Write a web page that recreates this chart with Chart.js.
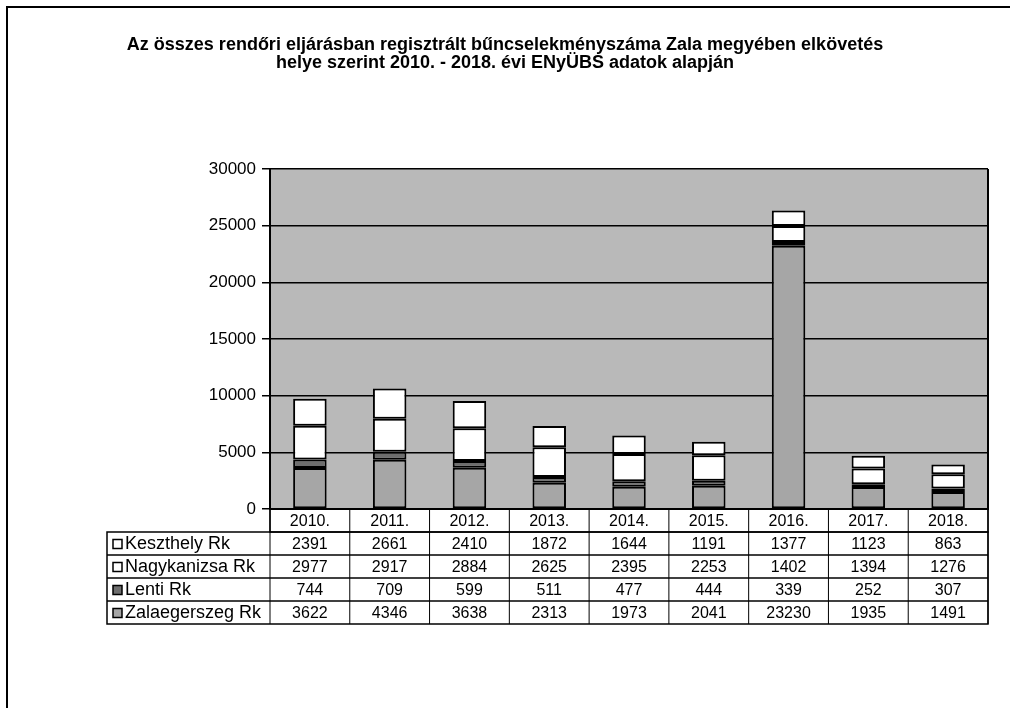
<!DOCTYPE html>
<html>
<head>
<meta charset="utf-8">
<script src="https://cdn.jsdelivr.net/npm/chart.js@4"></script>
<style>
  body { margin: 0; background: #fff; }
  #wrap { position: relative; width: 1010px; height: 708px; }
  #frame { position: absolute; left: 6px; top: 6px; right: 0; bottom: 0; border-left: 2px solid #000; border-top: 2px solid #000; pointer-events: none; }
  canvas { position: absolute; left: 0; top: 0; }
</style>
</head>
<body>
<div id="wrap">
  <canvas id="chart" width="1010" height="708"></canvas>
  <div id="frame"></div>
</div>
<script>
const years = ['2010.', '2011.', '2012.', '2013.', '2014.', '2015.', '2016.', '2017.', '2018.'];
const keszthely = [2391, 2661, 2410, 1872, 1644, 1191, 1377, 1123, 863];
const nagykanizsa = [2977, 2917, 2884, 2625, 2395, 2253, 1402, 1394, 1276];
const lenti = [744, 709, 599, 511, 477, 444, 339, 252, 307];
const zalaegerszeg = [3622, 4346, 3638, 2313, 1973, 2041, 23230, 1935, 1491];
const yMax = 30000;
const yStep = 5000;

const FONT = "'Liberation Sans', Arial, sans-serif";
const PLOT_BG = '#b9b9b9';

// table rows, top to bottom (reverse of stack order)
const tableRows = [
  { label: 'Keszthely Rk', values: keszthely, fill: '#ffffff' },
  { label: 'Nagykanizsa Rk', values: nagykanizsa, fill: '#ffffff' },
  { label: 'Lenti Rk', values: lenti, fill: '#6e6e6e' },
  { label: 'Zalaegerszeg Rk', values: zalaegerszeg, fill: '#a6a6a6' }
];

const plotBackground = {
  id: 'plotBackground',
  beforeDraw(chart) {
    const { ctx, chartArea } = chart;
    ctx.save();
    ctx.fillStyle = PLOT_BG;
    ctx.fillRect(chartArea.left, chartArea.top, chartArea.right - chartArea.left, chartArea.bottom - chartArea.top);
    ctx.restore();
  },
  afterDraw(chart) {
    const { ctx, chartArea } = chart;
    ctx.save();
    ctx.strokeStyle = '#000';
    ctx.lineWidth = 2;
    ctx.beginPath();
    ctx.moveTo(chartArea.right, chartArea.top);
    ctx.lineTo(chartArea.right, chartArea.bottom);
    ctx.stroke();
    ctx.restore();
  }
};

const dataTable = {
  id: 'dataTable',
  afterDraw(chart) {
    const { ctx, chartArea } = chart;
    const xScale = chart.scales.x;
    const left = chartArea.left;
    const right = chartArea.right;
    const top = chartArea.bottom;
    const rowH = 23;
    const legendLeft = 107;
    const colW = (right - left) / years.length;
    const bottom = top + rowH * (tableRows.length + 1);

    ctx.save();
    ctx.strokeStyle = '#000';
    ctx.lineWidth = 1.5;

    // header row box
    ctx.strokeRect(left, top, right - left, rowH);
    // body box
    ctx.strokeRect(legendLeft, top + rowH, right - legendLeft, rowH * tableRows.length);
    // row lines
    for (let i = 1; i < tableRows.length; i++) {
      const y = top + rowH * (i + 1);
      ctx.beginPath();
      ctx.moveTo(legendLeft, y);
      ctx.lineTo(right, y);
      ctx.stroke();
    }
    // column lines
    ctx.lineWidth = 1;
    for (let i = 0; i <= years.length; i++) {
      const x = left + colW * i;
      ctx.beginPath();
      ctx.moveTo(x, top);
      ctx.lineTo(x, bottom);
      ctx.stroke();
    }

    ctx.fillStyle = '#000';
    ctx.font = '16px ' + FONT;
    ctx.textAlign = 'center';
    ctx.textBaseline = 'middle';
    years.forEach((yr, i) => {
      ctx.fillText(yr, xScale.getPixelForValue(i), top + rowH / 2 + 1);
    });

    tableRows.forEach((row, r) => {
      const cy = top + rowH * (r + 1) + rowH / 2 + 1;
      // legend swatch
      ctx.fillStyle = row.fill;
      ctx.fillRect(legendLeft + 6, cy - 5, 9, 9);
      ctx.strokeStyle = '#000';
      ctx.lineWidth = 1.5;
      ctx.strokeRect(legendLeft + 6, cy - 5, 9, 9);
      ctx.fillStyle = '#000';
      ctx.textAlign = 'left';
      ctx.font = '18px ' + FONT;
      ctx.fillText(row.label, legendLeft + 18, cy);
      ctx.textAlign = 'center';
      ctx.font = '16px ' + FONT;
      row.values.forEach((v, i) => {
        ctx.fillText(String(v), xScale.getPixelForValue(i), cy);
      });
    });
    ctx.restore();
  }
};

const barStyle = { borderColor: '#000', borderWidth: 2, borderSkipped: false, barPercentage: 0.42, categoryPercentage: 1 };

new Chart(document.getElementById('chart'), {
  type: 'bar',
  data: {
    labels: years,
    datasets: [
      Object.assign({ label: 'Zalaegerszeg Rk', data: zalaegerszeg, backgroundColor: '#a6a6a6' }, barStyle),
      Object.assign({ label: 'Lenti Rk', data: lenti, backgroundColor: '#6e6e6e' }, barStyle),
      Object.assign({ label: 'Nagykanizsa Rk', data: nagykanizsa, backgroundColor: '#ffffff' }, barStyle),
      Object.assign({ label: 'Keszthely Rk', data: keszthely, backgroundColor: '#ffffff' }, barStyle)
    ]
  },
  options: {
    responsive: false,
    animation: false,
    layout: { padding: { left: 22, right: 22, top: 0, bottom: 199 } },
    plugins: {
      legend: { display: false },
      tooltip: { enabled: false },
      title: {
        display: true,
        text: [
          'Az összes rendőri eljárásban regisztrált bűncselekményszáma Zala megyében elkövetés',
          'helye szerint 2010. - 2018. évi ENyÜBS adatok alapján'
        ],
        color: '#000',
        font: { family: FONT, size: 18, weight: 'bold', lineHeight: 1.0 },
        padding: { top: 36, bottom: 97 }
      }
    },
    scales: {
      x: {
        stacked: true,
        ticks: { display: false },
        grid: { display: false, drawTicks: false },
        border: { display: true, color: '#000', width: 2 }
      },
      y: {
        stacked: true,
        min: 0,
        max: yMax,
        ticks: {
          stepSize: yStep,
          color: '#000',
          font: { family: FONT, size: 17 },
          padding: 6,
          callback: (value) => String(value)
        },
        grid: { color: '#000', lineWidth: 1.5, tickLength: 8, tickColor: '#000' },
        border: { display: true, color: '#000', width: 2 },
        afterFit(scale) { scale.width = 248; }
      }
    }
  },
  plugins: [plotBackground, dataTable]
});
</script>
</body>
</html>
